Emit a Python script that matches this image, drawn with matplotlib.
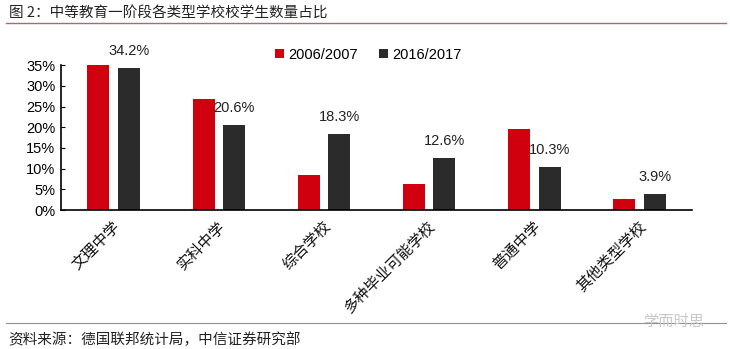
import matplotlib
matplotlib.use("Agg")
import matplotlib.pyplot as plt
import numpy as np

plt.rcParams['font.family'] = ['Noto Sans CJK SC', 'DejaVu Sans']

categories = ["文理中学", "实科中学", "综合学校", "多种毕业可能学校", "普通中学", "其他类型学校"]
series_names = ["2006/2007", "2016/2017"]
values_2006 = [35.0, 26.7, 8.5, 6.3, 19.6, 2.7]
values_2016 = [34.2, 20.6, 18.3, 12.6, 10.3, 3.9]
yticks = [0, 5, 10, 15, 20, 25, 30, 35]

red = "#D0000F"
dark = "#2B2B2B"
latin = ['Liberation Sans', 'DejaVu Sans']

fig = plt.figure(figsize=(7.30, 3.49), dpi=100)
ax = fig.add_axes([0.0836, 0.398, 0.8645, 0.4155])

x = np.arange(len(categories))
w = 0.21
off = 0.145
ax.bar(x - off, values_2006, w, color=red, label=series_names[0])
ax.bar(x + off, values_2016, w, color=dark, label=series_names[1])

for xi, v in zip(x, values_2016):
    ax.text(xi + off, v + 2.4, f"{v:.1f}%", ha="center", va="bottom", fontsize=10.5,
            family=latin, color="#222222")

ax.set_xlim(-0.5, len(categories) - 0.5)
ax.set_ylim(0, 35)
ax.set_yticks(yticks)
ax.set_yticklabels([f"{t}%" for t in yticks], fontsize=10.5, family=latin)
ax.set_xticks(x)
ax.set_xticklabels([])
for xi, c in zip(x, categories):
    ax.text(xi + 0.04, -3.3, c, rotation=45, ha="right", va="center",
            rotation_mode="anchor", fontsize=11, color="#111111")
ax.tick_params(axis='x', length=0)
ax.tick_params(axis='y', direction='in', length=3, width=0.8, pad=4)
for s in ["top", "right"]:
    ax.spines[s].set_visible(False)
ax.spines["left"].set_linewidth(1.2)
ax.spines["bottom"].set_linewidth(1.2)

leg = ax.legend(loc="center left", bbox_to_anchor=(0.318, 1.07), ncol=2, frameon=False,
                handlelength=0.6, handleheight=0.6, handletextpad=0.3, columnspacing=1.5,
                prop={'family': latin, 'size': 10.5})

fig.text(0.012, 0.963, "图 2：中等教育一阶段各类型学校校学生数量占比", fontsize=10.5,
         ha="left", va="center", color="#222222")
fig.add_artist(plt.Line2D([0.008, 0.995], [0.935, 0.935], color="#A07070", linewidth=1.0,
                          transform=fig.transFigure))
fig.add_artist(plt.Line2D([0.008, 0.995], [0.0745, 0.0745], color="#909090", linewidth=0.8,
                          transform=fig.transFigure))
fig.text(0.012, 0.026, "资料来源：德国联邦统计局，中信证券研究部", fontsize=10.5,
         ha="left", va="center", color="#222222")
fig.text(0.965, 0.08, "学而时思", fontsize=11, ha="right", va="center", color="#C8C8C8")

fig.savefig("out.png", dpi=100)
